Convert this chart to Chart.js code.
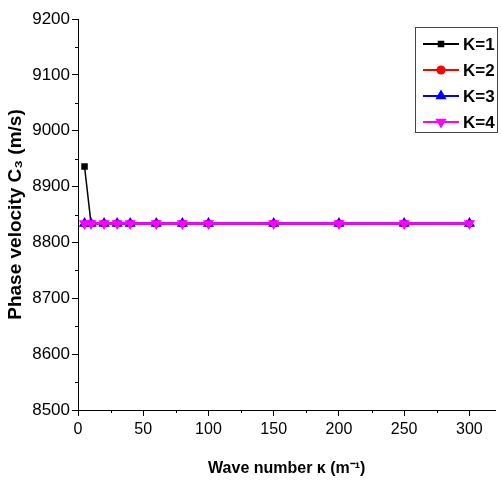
<!DOCTYPE html>
<html>
<head>
<meta charset="utf-8">
<script src="https://cdn.jsdelivr.net/npm/chart.js@4/dist/chart.umd.min.js"></script>
<style>
  html, body { margin: 0; padding: 0; background: #fff; }
  #wrap { width: 502px; height: 482px; }
</style>
</head>
<body>
<div id="wrap"><canvas id="c"></canvas></div>
<script>
const waveNumbers = [5, 10, 20, 30, 40, 60, 80, 100, 150, 200, 250, 300];
const k1 = [8936, 8834, 8834, 8834, 8834, 8834, 8834, 8834, 8834, 8834, 8834, 8834];
const k2 = [8834, 8834, 8834, 8834, 8834, 8834, 8834, 8834, 8834, 8834, 8834, 8834];
const k3 = [8834, 8834, 8834, 8834, 8834, 8834, 8834, 8834, 8834, 8834, 8834, 8834];
const k4 = [8834, 8834, 8834, 8834, 8834, 8834, 8834, 8834, 8834, 8834, 8834, 8834];
const seriesLabels = ['K=1', 'K=2', 'K=3', 'K=4'];
const xTicks = [0, 50, 100, 150, 200, 250, 300];
const yTicks = [8500, 8600, 8700, 8800, 8900, 9000, 9100, 9200];

const FONT = '"Liberation Sans", Arial, sans-serif';

function toPoints(vals) {
  return vals.map((v, i) => ({ x: waveNumbers[i], y: v }));
}

function makeSet(label, vals, color, style, radius, rot, lw) {
  return {
    label: label,
    data: toPoints(vals),
    borderColor: color,
    backgroundColor: color,
    pointBackgroundColor: color,
    pointBorderColor: color,
    borderWidth: lw,
    pointStyle: style,
    pointRotation: rot,
    pointRadius: radius,
    pointBorderWidth: 0,
    tension: 0
  };
}

const sets = [
  makeSet(seriesLabels[0], k1, '#000000', 'rect', 4.6, 0, 1.5),
  makeSet(seriesLabels[1], k2, '#ff0000', 'circle', 3.5, 0, 2),
  makeSet(seriesLabels[2], k3, '#0000ff', 'triangle', 6.5, 0, 2),
  makeSet(seriesLabels[3], k4, '#ff00ff', 'triangle', 6.5, 180, 2.5)
];

// minor ticks + legend box
const extras = {
  id: 'extras',
  afterDraw(chart) {
    const ctx = chart.ctx;
    const xs = chart.scales.x, ys = chart.scales.y;
    ctx.save();
    ctx.strokeStyle = '#000';
    ctx.lineWidth = 1;
    ctx.beginPath();
    for (let v = 25; v <= 300; v += 50) {
      const px = Math.round(xs.getPixelForValue(v)) + 0.5;
      ctx.moveTo(px, ys.bottom);
      ctx.lineTo(px, ys.bottom + 3);
    }
    for (let v = 8550; v <= 9150; v += 100) {
      const py = Math.round(ys.getPixelForValue(v)) + 0.5;
      ctx.moveTo(xs.left, py);
      ctx.lineTo(xs.left - 3, py);
    }
    ctx.stroke();

    // legend
    const lx = 415, ly = 27, lw = 82, lh = 105;
    ctx.strokeStyle = '#444';
    ctx.strokeRect(lx + 0.5, ly + 0.5, lw, lh);
    ctx.font = 'bold 17px ' + FONT;
    ctx.textBaseline = 'middle';
    sets.forEach((ds, i) => {
      const y = ly + 17 + i * 26;
      ctx.strokeStyle = ds.borderColor;
      ctx.lineWidth = 2;
      ctx.beginPath();
      ctx.moveTo(lx + 8, y);
      ctx.lineTo(lx + 44, y);
      ctx.stroke();
      ctx.fillStyle = ds.borderColor;
      Chart.helpers.drawPoint(ctx, {
        pointStyle: ds.pointStyle, rotation: ds.pointRotation,
        radius: Math.max(ds.pointRadius, 4.6), borderWidth: 0
      }, lx + 26, y);
      ctx.fillStyle = '#000';
      ctx.fillText(ds.label, lx + 48, y + 1);
    });
    ctx.restore();
  }
};

new Chart(document.getElementById('c'), {
  type: 'line',
  data: {
    // first dataset is painted last, so K=4 goes first to sit on top
    datasets: sets.slice().reverse()
  },
  options: {
    responsive: true,
    maintainAspectRatio: false,
    animation: false,
    layout: { padding: { top: 19, right: 2, left: 0, bottom: 0 } },
    plugins: { legend: { display: false }, tooltip: { enabled: false } },
    scales: {
      x: {
        type: 'linear',
        min: 0, max: 320,
        afterFit(s) { s.height = 72; },
        afterBuildTicks(s) { s.ticks = xTicks.map(v => ({ value: v })); },
        border: { color: '#000', width: 1 },
        grid: { drawOnChartArea: false, tickLength: 6, color: '#000' },
        ticks: {
          color: '#000', padding: 4, maxRotation: 0, autoSkip: false,
          font: { family: FONT, size: 16 },
          callback: v => String(v)
        },
        title: {
          display: true, text: 'Wave number \u03BA (m\u207B\u00B9)', color: '#000',
          font: { family: FONT, size: 16, weight: 'bold' },
          padding: { top: 10 }
        }
      },
      y: {
        min: 8500, max: 9200,
        afterFit(s) { s.width = 78; },
        afterBuildTicks(s) { s.ticks = yTicks.map(v => ({ value: v })); },
        border: { color: '#000', width: 1 },
        grid: { drawOnChartArea: false, tickLength: 6, color: '#000' },
        ticks: {
          color: '#000', padding: 2, autoSkip: false,
          font: { family: FONT, size: 17 },
          callback: v => String(v)
        },
        title: {
          display: true, text: 'Phase velocity C\u2083 (m/s)', color: '#000',
          font: { family: FONT, size: 19, weight: 'bold' },
          padding: { bottom: 0 }
        }
      }
    }
  },
  plugins: [extras]
});
</script>
</body>
</html>
